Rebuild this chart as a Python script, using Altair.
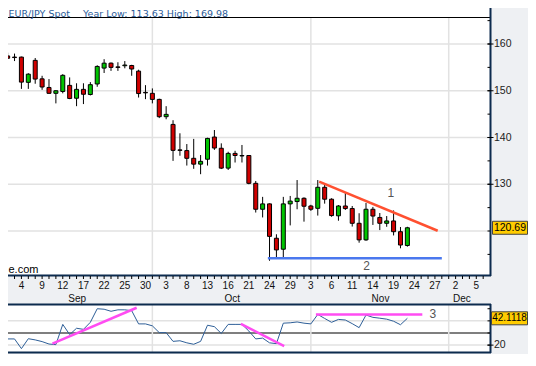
import altair as alt
import pandas as pd
import numpy as np

# ---------------- data ----------------
DATES = [
    "2008-09-02", "2008-09-03", "2008-09-04", "2008-09-05", "2008-09-08", "2008-09-09", "2008-09-10",
    "2008-09-11", "2008-09-12", "2008-09-15", "2008-09-16", "2008-09-17", "2008-09-18", "2008-09-19",
    "2008-09-22", "2008-09-23", "2008-09-24", "2008-09-25", "2008-09-26", "2008-09-29", "2008-09-30",
    "2008-10-01", "2008-10-02", "2008-10-03", "2008-10-06", "2008-10-07", "2008-10-08", "2008-10-09",
    "2008-10-10", "2008-10-13", "2008-10-14", "2008-10-15", "2008-10-16", "2008-10-17", "2008-10-20",
    "2008-10-21", "2008-10-22", "2008-10-23", "2008-10-24", "2008-10-27", "2008-10-28", "2008-10-29",
    "2008-10-30", "2008-10-31", "2008-11-03", "2008-11-04", "2008-11-05", "2008-11-06", "2008-11-07",
    "2008-11-10", "2008-11-11", "2008-11-12", "2008-11-13", "2008-11-14", "2008-11-17", "2008-11-18",
    "2008-11-19", "2008-11-20", "2008-11-21",
]
OPEN = [157.45, 157.2, 157.2, 151.8, 156.5, 152.55, 150.7, 149.45, 149.85, 151.15,
        148.4, 150.3, 149.2, 151.45, 154.85, 155.9, 155.1, 155.35, 155.4, 154.2,
        149.65, 149.45, 148.15, 144.45, 142.8, 137.35, 137.2, 135.55, 134.3, 135.35,
        140.1, 137.7, 133.45, 136.6, 136.15, 136.15, 130.2, 124.65, 125.8, 118.45,
        116.1, 125.8, 126.3, 127.0, 125.35, 124.85, 129.35, 126.8, 123.25, 125.35,
        124.8, 121.65, 118.1, 124.65, 122.9, 121.65, 122.15, 119.85, 116.9]
HIGH = [158.15, 157.95, 157.3, 153.75, 157.0, 153.2, 152.5, 150.1, 153.55, 152.85,
        151.6, 151.6, 151.85, 155.45, 156.75, 156.05, 156.1, 156.35, 155.55, 154.5,
        151.2, 150.5, 148.3, 146.7, 143.7, 140.9, 138.6, 139.7, 136.25, 139.95,
        141.6, 138.75, 136.95, 137.15, 138.4, 136.25, 130.7, 127.3, 125.9, 119.3,
        127.3, 127.5, 130.9, 127.2, 125.6, 130.9, 130.05, 127.0, 125.55, 128.2,
        125.35, 123.8, 126.0, 125.15, 123.85, 123.2, 124.4, 120.85, 120.9]
LOW = [156.8, 156.35, 150.4, 150.4, 151.5, 150.2, 149.4, 147.3, 149.45, 148.2,
       146.7, 147.15, 149.0, 150.85, 153.8, 154.25, 154.25, 154.8, 153.2, 148.55,
       148.2, 147.3, 144.15, 143.9, 135.0, 136.1, 134.0, 133.3, 132.15, 134.0,
       137.35, 133.25, 133.05, 134.65, 134.65, 130.0, 123.95, 122.9, 113.63, 114.35,
       114.4, 121.2, 124.65, 122.0, 124.3, 123.3, 125.85, 123.05, 122.2, 124.5,
       120.95, 117.5, 117.9, 121.3, 120.2, 120.9, 119.05, 116.3, 116.65]
CLOSE = [156.95, 157.1, 151.85, 153.55, 152.5, 150.8, 149.45, 150.0, 153.3, 148.35,
         150.3, 149.25, 151.3, 155.2, 155.9, 155.0, 155.0, 155.5, 154.65, 149.4,
         149.55, 148.15, 144.45, 144.95, 137.25, 137.25, 135.55, 134.3, 134.9, 139.8,
         137.75, 133.45, 136.6, 136.15, 136.05, 130.2, 124.65, 125.8, 118.85, 115.95,
         125.8, 126.4, 127.0, 125.3, 124.65, 129.35, 126.8, 123.3, 125.35, 124.8,
         121.65, 118.1, 124.65, 123.2, 121.65, 122.15, 119.85, 117.0, 120.69]

RSI_DATES = ["2008-09-01"] + DATES
RSI = [25.1, 25.1, 25.1, 17.1, 25.3, 24.3, 22.9, 20.9, 20.4, 37.1,
       28.7, 33.9, 33.0, 38.8, 50.0, 49.6, 47.9, 49.1, 49.1, 48.4,
       37.5, 37.5, 35.9, 30.3, 30.3, 23.1, 23.6, 21.9, 20.7, 23.1,
       36.4, 35.2, 29.6, 37.1, 37.1, 37.1, 31.6, 25.1, 25.8, 21.9,
       21.2, 38.1, 38.4, 39.1, 38.1, 37.5, 45.3, 42.0, 38.8, 41.2,
       40.7, 37.7, 34.4, 44.8, 42.9, 42.2, 41.4, 39.7, 36.8, 42.1118]

LAST_PRICE = 120.69
LAST_RSI = 42.1118

# trend lines: (trading-day index from Sep 4, value)
RESIST_X = [43.2, 60.4]
RESIST_Y = [130.55, 120.06]
SUPPORT_X = [35.76, 61.0]
SUPPORT_Y = [114.16, 114.16]
RSI_LINES = {
    "a": ([4.5, 16.72], [21.2, 50.8]),
    "b": ([31.84, 38.13], [37.5, 19.1]),
    "c": ([42.73, 58.17], [45.3, 45.3]),
}
NOTES_PRICE = {"label": ["1", "2"], "i": [53.6, 50.07], "v": [128.2, 112.5]}
NOTES_RSI = {"label": ["3"], "i": [59.7], "v": [46.0]}

PRICE_GRID = [120, 130, 140, 150, 160]
PRICE_TICKS = [115, 120, 125, 130, 135, 140, 145, 150, 155, 160, 165]
PRICE_LABELS = [130, 140, 150, 160]
RSI_GRID = [20, 40]
RSI_TICKS = [20, 30, 40, 50]
RSI_LABELS = [20]
DAY_LABELS = ["4", "9", "12", "17", "22", "25", "30", "3", "8", "13", "16", "21",
              "24", "29", "3", "6", "11", "14", "19", "24", "27", "2", "5"]
MONTH_LABELS = ["Sep", "Oct", "Nov", "Dec"]
MONTH_POS = [8.1, 30.6, 52.1, 63.9]
MONTH_STARTS = ["2008-10-01", "2008-11-03", "2008-12-01"]

assert len(OPEN) == len(HIGH) == len(LOW) == len(CLOSE) == len(DATES)
assert len(RSI) == len(RSI_DATES)

ORIGIN = np.datetime64("2008-09-04")


def idx(dates):
    return np.busday_count(ORIGIN, np.array(dates, dtype="datetime64[D]"))


candles = pd.DataFrame({"i": idx(DATES), "o": OPEN, "h": HIGH, "l": LOW, "c": CLOSE})
candles["col"] = np.where(candles["c"] >= candles["o"], "#00c400", "#d00000")
rsi = pd.DataFrame({"i": idx(RSI_DATES), "v": RSI})

NAVY = "#0c2b4e"
FONT = "Liberation Sans"
HFONT = "DejaVu Sans"

# layout (pixels inside the plot area)
W, H = 483, 338
MAIN_B = 259          # bottom of price panel
RSI_T, RSI_B = 288, 337

X = alt.Scale(domain=[-1.222, 67.41], nice=False, zero=False)
PY = alt.Scale(domain=[93.69, 165.99], nice=False, zero=False)
RY = alt.Scale(domain=[12.68, 291.35], nice=False, zero=False)


def xf(f="i"):
    return alt.X(f"{f}:Q", scale=X, axis=None)


def pyf(f):
    return alt.Y(f"{f}:Q", scale=PY, axis=None)


def ryf(f):
    return alt.Y(f"{f}:Q", scale=RY, axis=None)


one = pd.DataFrame({"a": [0]})
layers = []

# backgrounds
layers.append(alt.Chart(one).mark_rect(color="white").encode(
    x=alt.value(0), x2=alt.value(W), y=alt.value(-8), y2=alt.value(MAIN_B)))
layers.append(alt.Chart(one).mark_rect(color="white").encode(
    x=alt.value(0), x2=alt.value(W), y=alt.value(RSI_T), y2=alt.value(RSI_B)))

# grids
layers.append(alt.Chart(pd.DataFrame({"p": PRICE_GRID})).mark_rule(color="#e2e2e2", strokeWidth=1.5).encode(
    x=alt.value(0), x2=alt.value(W), y=pyf("p")))
layers.append(alt.Chart(pd.DataFrame({"v": RSI_GRID})).mark_rule(color="#e2e2e2", strokeWidth=1.5).encode(
    x=alt.value(0), x2=alt.value(W), y=ryf("v")))
layers.append(alt.Chart(pd.DataFrame({"v": [30]})).mark_rule(color="black", strokeWidth=1.2).encode(
    x=alt.value(0), x2=alt.value(W), y=ryf("v")))
ms = pd.DataFrame({"i": idx(MONTH_STARTS)})
layers.append(alt.Chart(ms).mark_rule(color="#e2e2e2", strokeWidth=1.5).encode(
    x=xf(), y=alt.value(1.5), y2=alt.value(MAIN_B)))
layers.append(alt.Chart(ms).mark_rule(color="#e2e2e2", strokeWidth=1.5).encode(
    x=xf(), y=alt.value(RSI_T + 1), y2=alt.value(RSI_B - 1)))

# candles
layers.append(alt.Chart(candles).mark_rule(color="black", strokeWidth=1).encode(
    x=xf(), y=pyf("l"), y2="h:Q"))
layers.append(alt.Chart(candles).mark_bar(size=4, stroke="black", strokeWidth=1).encode(
    x=xf(), y=pyf("o"), y2="c:Q", fill=alt.Fill("col:N", scale=None)))

# trend lines on price
layers.append(alt.Chart(pd.DataFrame({"i": RESIST_X, "v": RESIST_Y})).mark_line(
    color="#ff5030", strokeWidth=2.5).encode(x=xf(), y=pyf("v")))
layers.append(alt.Chart(pd.DataFrame({"i": SUPPORT_X, "v": SUPPORT_Y})).mark_line(
    color="#4a78ee", strokeWidth=2.5).encode(x=xf(), y=pyf("v")))
layers.append(alt.Chart(pd.DataFrame(NOTES_PRICE)).mark_text(
    font=FONT, fontSize=12, color="#555555", baseline="middle").encode(x=xf(), y=pyf("v"), text="label:N"))

# RSI
layers.append(alt.Chart(rsi).mark_line(color="#2e5f98", strokeWidth=1).encode(x=xf(), y=ryf("v")))
for k, (xs, vs) in RSI_LINES.items():
    layers.append(alt.Chart(pd.DataFrame({"i": xs, "v": vs})).mark_line(
        color="#ff4cf2", strokeWidth=2.5).encode(x=xf(), y=ryf("v")))
layers.append(alt.Chart(pd.DataFrame(NOTES_RSI)).mark_text(
    font=FONT, fontSize=12, color="#555555", baseline="middle").encode(x=xf(), y=ryf("v"), text="label:N"))

# frame lines
layers.append(alt.Chart(one).mark_rule(color="black", strokeWidth=1).encode(
    x=alt.value(0), x2=alt.value(W), y=alt.value(1.5)))
layers.append(alt.Chart(one).mark_rule(color=NAVY, strokeWidth=2).encode(
    x=alt.value(0), x2=alt.value(W), y=alt.value(MAIN_B + 0.5)))
layers.append(alt.Chart(one).mark_rule(color=NAVY, strokeWidth=2).encode(
    x=alt.value(W - 0.5), y=alt.value(-8), y2=alt.value(MAIN_B + 1)))
layers.append(alt.Chart(one).mark_rule(color=NAVY, strokeWidth=2).encode(
    x=alt.value(0), x2=alt.value(W), y=alt.value(RSI_T + 0.5)))
layers.append(alt.Chart(one).mark_rule(color=NAVY, strokeWidth=2).encode(
    x=alt.value(0), x2=alt.value(W), y=alt.value(RSI_B - 0.5)))
layers.append(alt.Chart(one).mark_rule(color=NAVY, strokeWidth=2).encode(
    x=alt.value(W - 0.5), y=alt.value(RSI_T), y2=alt.value(RSI_B)))

# price axis
layers.append(alt.Chart(pd.DataFrame({"p": PRICE_TICKS})).mark_rule(color="black", strokeWidth=1).encode(
    x=alt.value(W - 3.5), x2=alt.value(W - 1), y=pyf("p")))
layers.append(alt.Chart(pd.DataFrame({"p": PRICE_LABELS})).mark_rule(color="black", strokeWidth=1).encode(
    x=alt.value(W - 3.5), x2=alt.value(W + 2.5), y=pyf("p")))
layers.append(alt.Chart(pd.DataFrame({"p": PRICE_LABELS})).mark_text(
    font=FONT, fontSize=10.5, color="#222222", align="left", baseline="middle").encode(
    x=alt.value(W + 3), y=pyf("p"), text="p:Q"))
layers.append(alt.Chart(pd.DataFrame({"p": [LAST_PRICE]})).mark_rect(
    fill="#ffcc00", stroke="#444444", strokeWidth=1, yOffset=-6.5, y2Offset=6.5).encode(
    x=alt.value(W + 1.5), x2=alt.value(W + 36.5), y=pyf("p"), y2="p:Q"))
layers.append(alt.Chart(pd.DataFrame({"p": [LAST_PRICE]})).mark_text(
    font=FONT, fontSize=10.5, color="black", align="center", baseline="middle").encode(
    x=alt.value(W + 19), y=pyf("p"), text=alt.Text("p:Q", format=".2f")))

# RSI axis
layers.append(alt.Chart(pd.DataFrame({"v": RSI_TICKS})).mark_rule(color="black", strokeWidth=1).encode(
    x=alt.value(W - 3.5), x2=alt.value(W - 1), y=ryf("v")))
layers.append(alt.Chart(pd.DataFrame({"v": RSI_LABELS})).mark_rule(color="black", strokeWidth=1).encode(
    x=alt.value(W - 3.5), x2=alt.value(W + 2.5), y=ryf("v")))
layers.append(alt.Chart(pd.DataFrame({"v": RSI_LABELS})).mark_text(
    font=FONT, fontSize=10.5, color="#222222", align="left", baseline="middle").encode(
    x=alt.value(W + 3), y=ryf("v"), text="v:Q"))
layers.append(alt.Chart(pd.DataFrame({"v": [LAST_RSI]})).mark_rect(
    fill="#ffcc00", stroke="#444444", strokeWidth=1, yOffset=-6.5, y2Offset=6.5).encode(
    x=alt.value(W + 0.5), x2=alt.value(W + 36.5), y=ryf("v"), y2="v:Q"))
layers.append(alt.Chart(pd.DataFrame({"v": [LAST_RSI]})).mark_text(
    font=FONT, fontSize=10, color="black", align="center", baseline="middle").encode(
    x=alt.value(W + 18.5), y=ryf("v"), text=alt.Text("v:Q", format=".4f")))

# x axis
xt = pd.DataFrame({"i": list(range(-1, 68))})
layers.append(alt.Chart(xt).mark_rule(color="black", strokeWidth=1).encode(
    x=xf(), y=alt.value(MAIN_B + 1), y2=alt.value(MAIN_B + 4)))
dl = pd.DataFrame({"i": list(range(0, 3 * len(DAY_LABELS), 3)), "t": DAY_LABELS})
layers.append(alt.Chart(dl).mark_text(font=FONT, fontSize=10, color="#111111", baseline="middle").encode(
    x=xf(), y=alt.value(269.5), text="t:N"))
ml = pd.DataFrame({"i": MONTH_POS, "t": MONTH_LABELS})
layers.append(alt.Chart(ml).mark_text(font=FONT, fontSize=10, color="#111111", baseline="middle").encode(
    x=xf(), y=alt.value(282.5), text="t:N"))

# header & watermark
layers.append(alt.Chart(one).mark_text(font=HFONT, fontSize=9.5, color="#2b5c9a", align="left",
                                       baseline="top").encode(
    x=alt.value(0.5), y=alt.value(-7.5), text=alt.value("EUR/JPY Spot")))
layers.append(alt.Chart(one).mark_text(font=HFONT, fontSize=9.5, color="#2b5c9a", align="left",
                                       baseline="top").encode(
    x=alt.value(75), y=alt.value(-7.5), text=alt.value("Year Low: 113.63 High: 169.98")))
layers.append(alt.Chart(one).mark_text(font=FONT, fontSize=11, color="black", align="left",
                                       baseline="middle").encode(
    x=alt.value(0.5), y=alt.value(254), text=alt.value("e.com")))

chart = alt.layer(*layers).resolve_scale(y="independent").properties(
    width=W, height=H,
    autosize=alt.AutoSizeParams(type="none"),
    padding={"left": 0, "top": 8, "right": 37, "bottom": 0},
    background="#eef0f3",
).configure_view(strokeWidth=0)

chart.save("out.html", embed_options={"renderer": "svg", "actions": False})
